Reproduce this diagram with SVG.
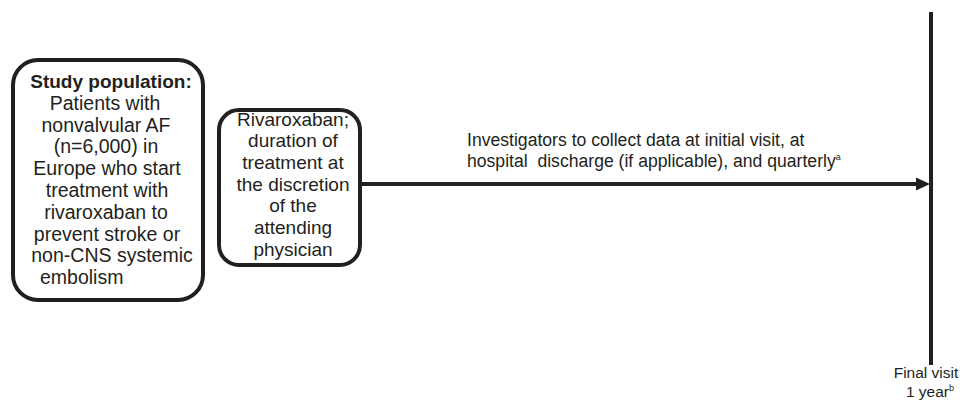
<svg xmlns="http://www.w3.org/2000/svg" width="969" height="405" viewBox="0 0 969 405">
<defs>
<style>
.box{fill:#fff;stroke:#231f20;stroke-width:4}
.t{font-family:"Liberation Sans",Arial,sans-serif;fill:#231f20}
.bt{font-size:19px;text-anchor:middle}
.b1{font-size:19.5px}
.line{stroke:#231f20;stroke-width:4;fill:none}
</style>
</defs>
<rect width="969" height="405" fill="#fff"/>
<g id="study-population">
<rect class="box" x="13" y="60" width="190" height="240" rx="25" ry="25"/>
<text class="t bt" x="111" y="88" font-weight="bold">Study population:</text>
<text class="t bt b1" x="105" y="109.8">Patients with</text>
<text class="t bt b1" x="106" y="131.6">nonvalvular AF</text>
<text class="t bt b1" x="106" y="153.4">(n=6,000) in</text>
<text class="t bt b1" x="107" y="175.2">Europe who start</text>
<text class="t bt b1" x="107" y="197">treatment with</text>
<text class="t bt b1" x="106" y="218.8">rivaroxaban to</text>
<text class="t bt b1" x="107" y="240.6">prevent stroke or</text>
<text class="t bt b1" x="112" y="262.4">non-CNS systemic</text>
<text class="t b1" x="40" y="284.2">embolism</text>
</g>
<g id="rivaroxaban">
<rect class="box" x="219" y="110" width="141" height="155" rx="20" ry="20"/>
<text class="t bt" x="293" y="125.5">Rivaroxaban;</text>
<text class="t bt" x="293" y="147.2">duration of</text>
<text class="t bt" x="293" y="168.9">treatment at</text>
<text class="t bt" x="293" y="190.6">the discretion</text>
<text class="t bt" x="293" y="212.3">of the</text>
<text class="t bt" x="293" y="234">attending</text>
<text class="t bt" x="293" y="255.7">physician</text>
</g>
<g id="final-visit">
<line class="line" x1="931" y1="12" x2="931" y2="365"/>
<text class="t" x="926" y="378" font-size="15.5" text-anchor="middle">Final visit</text>
<text class="t" x="930" y="397" font-size="15.5" text-anchor="middle">1 year<tspan font-size="9" dy="-6">b</tspan></text>
</g>
<g id="connectors">
<line class="line" x1="360" y1="184" x2="919" y2="184"/>
<polygon points="916,177.5 930,184 916,190.5" fill="#231f20"/>
<text class="t" x="467" y="146" font-size="17.6">Investigators to collect data at initial visit, at</text>
<text class="t" x="467" y="167" font-size="17.6">hospital&#160; discharge (if applicable), and quarterly<tspan font-size="9" dy="-7">a</tspan></text>
</g>
</svg>
